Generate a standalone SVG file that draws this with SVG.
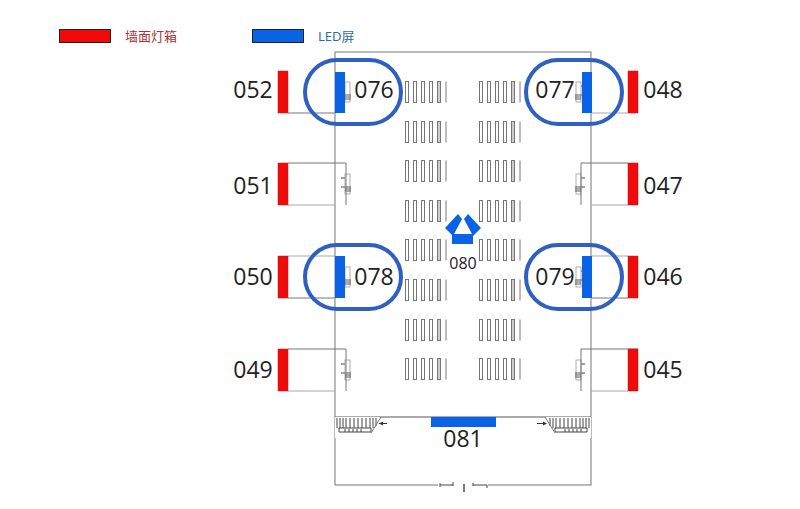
<svg xmlns="http://www.w3.org/2000/svg" width="800" height="509" viewBox="0 0 800 509">
<style>
.lb{font-family:"Open Sans","Noto Sans","Liberation Sans",sans-serif;font-size:23px;fill:#222;text-anchor:middle}
.r{fill:#f00a0a;stroke:#c01818;stroke-width:.5}
.b{fill:#0a62e6}
.ln{fill:none;stroke:#777;stroke-width:1}
.lt{fill:none;stroke:#aaa;stroke-width:1}
.ov{fill:none;stroke:#2f5fc0;stroke-width:4}
.s{fill:#fff;stroke:#777;stroke-width:1}
.k{fill:none;stroke:#444;stroke-width:1}
</style>
<defs>
<g id="seats">
<rect class="s" x="0.5" y="0.5" width="3" height="21"/>
<rect class="s" x="8.5" y="0.5" width="3" height="21"/>
<rect class="s" x="16.5" y="0.5" width="3" height="21"/>
<rect class="s" x="24.5" y="0.5" width="3" height="21"/>
<rect class="s" x="32.5" y="0.5" width="3" height="21" style="fill:#ccc"/>
<path class="ln" d="M41 .5V21.5"/>
</g>
<g id="fix">
<path class="k" d="M-1 -6h4M-1 3h4"/>
<rect x="3" y="-10" width="5" height="20" fill="#fff" stroke="#999" stroke-width=".8"/>
<path d="M3 3h6M3 5h6M3 7h6" stroke="#333" stroke-width=".8"/>
</g>
<g id="corner">
<path d="M0 0H45L35 21H0Z" fill="#fff"/>
<path d="M2 1V11M5 1V11M8 1V11M11 1V11M15 1V11M19 1V11M23 1V11M27 1V11M31 1V11M35 1V11M38 1V11M41 1V9" stroke="#8a8a8a" stroke-width="1.6"/>
<path d="M4 11H36V15H4ZM10 12V15M14 12V15M18 12V15M22 12V15M26 12V15" class="k" stroke-width=".7"/>
<path d="M46 0L36 16" class="ln"/>
</g>
</defs>

<g id="legend-lightbox">
<rect x="59.500" y="29.500" width="51" height="13" fill="#f00a0a" stroke="#222" stroke-width="1"/>
<text x="125" y="41" font-family="'Noto Sans CJK SC',sans-serif" font-size="13" fill="#a83232">墙面灯箱</text>
</g>
<g id="legend-led">
<rect x="252.500" y="29.500" width="51" height="13" fill="#0a62e6" stroke="#222" stroke-width="1"/>
<text x="318" y="41" font-family="'Noto Sans','Noto Sans CJK SC',sans-serif" font-size="13" fill="#2f6f9f">LED屏</text>
</g>

<g id="hall">
<rect class="ln" x="335" y="52" width="256" height="433" stroke-width="1"/>
<path d="M335 417H591" stroke="#555" stroke-width="1"/>
<path fill="#fff" d="M438 483h50v4h-50z"/>
<path class="k" d="M440 485h13M473 485h14M440 483v4M473 483v3M487 485v3M453 482v4"/>
<path d="M464 484v8" stroke="#222" stroke-width="1.200"/>
</g>

<g id="seating">
<use href="#seats" x="405" y="81"/><use href="#seats" x="479" y="81"/>
<use href="#seats" x="405" y="121"/><use href="#seats" x="479" y="121"/>
<use href="#seats" x="405" y="160"/><use href="#seats" x="479" y="160"/>
<use href="#seats" x="405" y="200"/><use href="#seats" x="479" y="200"/>
<use href="#seats" x="405" y="239"/><use href="#seats" x="479" y="239"/>
<use href="#seats" x="405" y="279"/><use href="#seats" x="479" y="279"/>
<use href="#seats" x="405" y="319"/><use href="#seats" x="479" y="319"/>
<use href="#seats" x="405" y="358"/><use href="#seats" x="479" y="358"/>
</g>

<g id="fixtures">
<use href="#fix" x="342" y="92"/>
<use href="#fix" x="342" y="184"/>
<use href="#fix" x="342" y="277"/>
<use href="#fix" x="342" y="370"/>
<use href="#fix" transform="translate(584 92) scale(-1 1)"/>
<use href="#fix" transform="translate(584 184) scale(-1 1)"/>
<use href="#fix" transform="translate(584 277) scale(-1 1)"/>
<use href="#fix" transform="translate(584 370) scale(-1 1)"/>
<use href="#corner" x="335" y="417"/>
<use href="#corner" transform="translate(591 417) scale(-1 1)"/>
<path d="M379 423.500h8M545 423.500h-8" stroke="#333" stroke-width="1"/>
<path d="M383 421.500l-4 2 4 2zM543 421.500l4 2-4 2z" fill="#333"/>
</g>

<g id="connectors">
<path class="ln" d="M288 113H335"/>
<path class="ln" d="M288 163H346V205"/>
<path class="lt" d="M288 205H335"/>
<path class="lt" d="M288 256H335"/>
<path class="ln" d="M288 298H335"/>
<path class="ln" d="M288 349H346V391"/>
<path class="lt" d="M288 391H335"/>
<path class="lt" d="M628 113H592"/>
<path class="ln" d="M628 163H581V205"/>
<path class="lt" d="M628 205H591"/>
<path class="lt" d="M628 256H592"/>
<path class="ln" d="M628 298H592"/>
<path class="ln" d="M638 349H581V391"/>
<path class="lt" d="M628 391H591"/>
</g>

<g id="n052"><rect class="r" x="278" y="71" width="10" height="42"/><text class="lb" x="253" y="98">052</text></g>
<g id="n051"><rect class="r" x="278" y="163" width="10" height="42"/><text class="lb" x="253" y="194">051</text></g>
<g id="n050"><rect class="r" x="278" y="256" width="10" height="42"/><text class="lb" x="253" y="285">050</text></g>
<g id="n049"><rect class="r" x="278" y="349" width="10" height="42"/><text class="lb" x="253" y="378">049</text></g>
<g id="n048"><rect class="r" x="628" y="71" width="10" height="42"/><text class="lb" x="663" y="98">048</text></g>
<g id="n047"><rect class="r" x="628" y="163" width="10" height="42"/><text class="lb" x="663" y="194">047</text></g>
<g id="n046"><rect class="r" x="628" y="256" width="10" height="42"/><text class="lb" x="663" y="285">046</text></g>
<g id="n045"><rect class="r" x="628" y="349" width="10" height="42"/><text class="lb" x="663" y="378">045</text></g>

<g id="n076"><rect class="b" x="335" y="72" width="10" height="41"/><text class="lb" x="374" y="98">076</text><rect class="ov" x="305" y="60" width="96" height="64" rx="32"/></g>
<g id="n077"><rect class="b" x="582" y="72" width="10" height="41"/><text class="lb" x="555" y="98">077</text><rect class="ov" x="526" y="60" width="96" height="64" rx="32"/></g>
<g id="n078"><rect class="b" x="335" y="256" width="10" height="42"/><text class="lb" x="374" y="285">078</text><rect class="ov" x="305" y="245" width="96" height="64" rx="32"/></g>
<g id="n079"><rect class="b" x="582" y="256" width="10" height="42"/><text class="lb" x="555" y="285">079</text><rect class="ov" x="526" y="245" width="96" height="64" rx="32"/></g>

<g id="n080">
<rect class="b" x="452" y="234" width="21" height="10"/>
<path class="b" d="M445 228L458 214L462 219L453 236Z"/>
<path class="b" d="M481 228L468 214L464 219L473 236Z"/>
<text x="463" y="269" font-family="'Open Sans','Noto Sans',sans-serif" font-size="16" fill="#222" text-anchor="middle">080</text>
</g>
<g id="n081"><rect class="b" x="431" y="417" width="65" height="10"/><text class="lb" x="463" y="447">081</text></g>
</svg>
